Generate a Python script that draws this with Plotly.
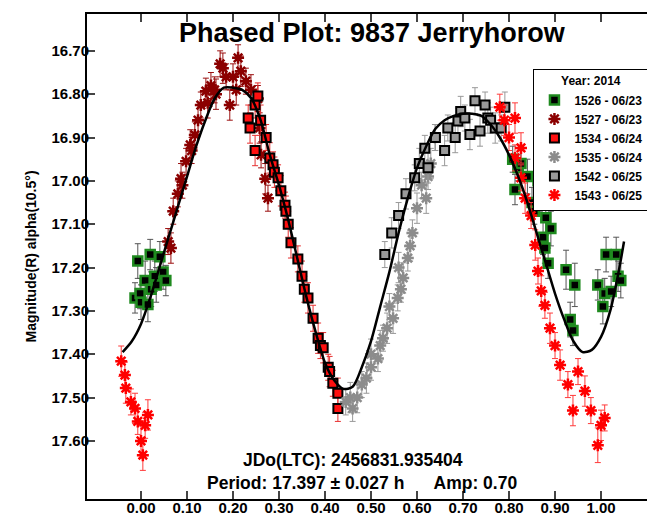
import plotly.graph_objects as go

# ---------------- data ----------------
p1526 = [-0.013, -0.007, -0.002, 0.0, 0.009, 0.015, 0.02, 0.022, 0.03, 0.033, 0.041, 0.048, 0.054,
         0.808, 0.813, 0.82, 0.826, 0.84, 0.85, 0.855, 0.863, 0.867, 0.874, 0.878, 0.88, 0.885, 0.891,
         0.924, 0.933, 0.939, 0.943, 0.993, 1.004, 1.008, 1.011, 1.022, 1.033, 1.037, 1.043]
m1526 = [17.27, 17.185, 17.26, 17.28, 17.23, 17.285, 17.17, 17.25, 17.22, 17.24, 17.175, 17.21, 17.23,
         16.95, 17.02, 16.97, 16.96, 16.99, 17.05, 17.07, 17.00, 17.035, 17.13, 17.155, 17.085, 17.19, 17.11,
         17.205, 17.32, 17.345, 17.24, 17.24, 17.29, 17.26, 17.17, 17.255, 17.17, 17.22, 17.23]
e1526 = [0.035, 0.04, 0.035, 0.04, 0.045, 0.04, 0.035, 0.04, 0.035, 0.04, 0.035, 0.04, 0.035,
         0.03, 0.035, 0.03, 0.035, 0.04, 0.035, 0.03, 0.04, 0.035, 0.04, 0.035, 0.04, 0.035, 0.04,
         0.045, 0.04, 0.035, 0.05, 0.035, 0.04, 0.035, 0.04, 0.035, 0.04, 0.035, 0.04]

p1527 = [0.059, 0.065, 0.07, 0.08, 0.087, 0.09, 0.098, 0.107, 0.11, 0.117, 0.124, 0.13, 0.141, 0.145,
         0.152, 0.16, 0.163, 0.172, 0.178, 0.185, 0.193, 0.2, 0.207, 0.211, 0.217, 0.228, 0.239,
         0.254, 0.258, 0.261, 0.27, 0.276]
m1527 = [17.14, 17.155, 17.07, 17.03, 16.995, 17.01, 16.955, 16.917, 16.93, 16.894, 16.86, 16.825, 16.793, 16.82,
         16.78, 16.79, 16.80, 16.73, 16.74, 16.76, 16.825, 16.76, 16.79, 16.716, 16.747, 16.77, 16.79,
         16.81, 16.878, 16.94, 16.995, 17.04]
e1527 = [0.03, 0.035, 0.03, 0.03, 0.035, 0.03, 0.03, 0.035, 0.03, 0.03, 0.035, 0.03, 0.03, 0.035,
         0.03, 0.03, 0.035, 0.03, 0.035, 0.03, 0.035, 0.03, 0.035, 0.03, 0.035, 0.03, 0.035,
         0.03, 0.035, 0.03, 0.035, 0.03]

p1534 = [0.233, 0.237, 0.248, 0.248, 0.254, 0.26, 0.272, 0.28, 0.287, 0.29, 0.298, 0.304, 0.313, 0.315,
         0.32, 0.326, 0.341, 0.35, 0.355, 0.363, 0.374, 0.385, 0.39, 0.396, 0.407, 0.41, 0.417, 0.428, 0.428]
m1534 = [16.855, 16.878, 16.825, 16.93, 16.804, 16.86, 16.90, 16.947, 16.963, 16.98, 16.993, 17.023, 17.056, 17.07,
         17.10, 17.143, 17.18, 17.22, 17.25, 17.27, 17.317, 17.363, 17.38, 17.385, 17.43, 17.44, 17.467, 17.49, 17.525]
e1534 = [0.03, 0.035, 0.03, 0.035, 0.03, 0.035, 0.03, 0.035, 0.03, 0.035, 0.03, 0.035, 0.03, 0.035,
         0.03, 0.035, 0.03, 0.035, 0.03, 0.035, 0.03, 0.035, 0.03, 0.035, 0.03, 0.035, 0.03, 0.035, 0.03]

p1535 = [0.445, 0.455, 0.46, 0.47, 0.48, 0.49, 0.50, 0.50, 0.515, 0.52, 0.526, 0.535, 0.54, 0.548,
         0.558, 0.56, 0.565, 0.57, 0.58, 0.585, 0.59, 0.60, 0.61, 0.62, 0.624, 0.63, 0.639]
m1535 = [17.51, 17.50, 17.525, 17.50, 17.47, 17.455, 17.43, 17.40, 17.41, 17.38, 17.363, 17.34, 17.29, 17.317,
         17.27, 17.20, 17.25, 17.224, 17.178, 17.15, 17.12, 17.063, 17.01, 17.04, 16.99, 16.96, 16.90]
e1535 = [0.03, 0.035, 0.03, 0.035, 0.03, 0.035, 0.03, 0.035, 0.03, 0.035, 0.03, 0.035, 0.03, 0.035,
         0.03, 0.035, 0.03, 0.035, 0.03, 0.035, 0.03, 0.035, 0.03, 0.035, 0.03, 0.035, 0.03]

p1542 = [0.53, 0.545, 0.56, 0.576, 0.595, 0.605, 0.617, 0.624, 0.64, 0.66, 0.667, 0.683, 0.689, 0.695,
         0.704, 0.715, 0.726, 0.737, 0.748, 0.754, 0.76, 0.77, 0.783, 0.791]
m1542 = [17.17, 17.12, 17.08, 17.03, 16.993, 16.96, 16.925, 16.97, 16.90, 16.93, 16.878, 16.90, 16.862, 16.84,
         16.855, 16.893, 16.815, 16.885, 16.825, 16.855, 16.86, 16.878, 16.878, 16.83]
e1542 = [0.03, 0.035, 0.03, 0.035, 0.03, 0.035, 0.03, 0.035, 0.03, 0.035, 0.03, 0.035, 0.03, 0.035,
         0.03, 0.035, 0.03, 0.035, 0.03, 0.035, 0.03, 0.035, 0.03, 0.035]

p1543 = [-0.043, -0.035, -0.033, -0.022, -0.013, -0.007, 0.0, 0.004, 0.009, 0.015,
         0.78, 0.79, 0.80, 0.813, 0.813, 0.826, 0.826, 0.835, 0.848, 0.857, 0.863, 0.87, 0.878,
         0.889, 0.90, 0.911, 0.928, 0.939, 0.95, 0.965, 0.978, 0.993, 1.0, 1.008]
m1543 = [17.416, 17.448, 17.478, 17.51, 17.525, 17.555, 17.60, 17.633, 17.564, 17.54,
         16.83, 16.86, 16.90, 16.855, 16.947, 16.924, 16.993, 17.04, 17.08, 17.148, 17.208, 17.254, 17.287,
         17.34, 17.38, 17.425, 17.47, 17.53, 17.44, 17.485, 17.53, 17.61, 17.564, 17.547]
e1543 = [0.035, 0.03, 0.035, 0.03, 0.035, 0.03, 0.04, 0.035, 0.03, 0.035,
         0.03, 0.035, 0.03, 0.035, 0.03, 0.035, 0.03, 0.035, 0.03, 0.035, 0.03, 0.035, 0.03,
         0.035, 0.03, 0.035, 0.03, 0.035, 0.03, 0.035, 0.03, 0.04, 0.035, 0.03]

fit_phase = [-0.04, -0.02, 0.00, 0.02, 0.04, 0.06, 0.08, 0.10, 0.12, 0.14, 0.16, 0.18, 0.20, 0.22,
             0.24, 0.26, 0.28, 0.30, 0.32, 0.34, 0.36, 0.38, 0.40, 0.42, 0.44, 0.46, 0.48, 0.50,
             0.52, 0.54, 0.56, 0.58, 0.60, 0.62, 0.64, 0.66, 0.68, 0.70, 0.72, 0.74, 0.76, 0.78,
             0.80, 0.82, 0.84, 0.86, 0.88, 0.90, 0.92, 0.94, 0.96, 0.98, 1.00, 1.02, 1.04, 1.05]
fit_mag = [17.395, 17.37, 17.33, 17.27, 17.20, 17.13, 17.06, 16.99, 16.92, 16.86, 16.81, 16.785, 16.785, 16.79,
           16.81, 16.86, 16.94, 17.01, 17.09, 17.18, 17.27, 17.35, 17.42, 17.46, 17.48, 17.475, 17.43, 17.37,
           17.29, 17.21, 17.12, 17.04, 16.97, 16.92, 16.88, 16.86, 16.85, 16.845, 16.845, 16.85, 16.87, 16.90,
           16.94, 16.99, 17.05, 17.12, 17.19, 17.26, 17.32, 17.37, 17.395, 17.39, 17.36, 17.30, 17.20, 17.14]

x_ticks = [0.0, 0.1, 0.2, 0.3, 0.4, 0.5, 0.6, 0.7, 0.8, 0.9, 1.0]
y_ticks = [16.7, 16.8, 16.9, 17.0, 17.1, 17.2, 17.3, 17.4, 17.5, 17.6]

# ---------------- figure ----------------
FONT = "Liberation Sans, Arial, sans-serif"
fig = go.Figure()

def add_series(name, px, py, pe, symbol, fill, line_col, line_w, size, err_col):
    fig.add_trace(go.Scatter(
        x=px, y=py, mode="markers", name=name,
        marker=dict(symbol=symbol, size=size, color=fill,
                    line=dict(color=line_col, width=line_w)),
        error_y=dict(type="data", array=pe, visible=True, color=err_col,
                     thickness=1, width=3),
    ))

add_series("1526 - 06/23", p1526, m1526, e1526, "square", "#000000", "#1f8a1f", 2.5, 9, "#555555")
add_series("1527 - 06/23", p1527, m1527, e1527, "asterisk-open", "#8b0000", "#8b0000", 2.5, 10, "#9b1010")
add_series("1534 - 06/24", p1534, m1534, e1534, "square", "#ff1010", "#000000", 2, 9, "#e83030")
add_series("1535 - 06/24", p1535, m1535, e1535, "asterisk-open", "#8c8c8c", "#8c8c8c", 2.5, 10, "#999999")
add_series("1542 - 06/25", p1542, m1542, e1542, "square", "#9a9a9a", "#000000", 2, 9, "#999999")
add_series("1543 - 06/25", p1543, m1543, e1543, "asterisk-open", "#ff0000", "#ff0000", 2.5, 10, "#ff3a3a")

fig.add_trace(go.Scatter(x=fit_phase, y=fit_mag, mode="lines", showlegend=False,
                         line=dict(color="black", width=2.5, shape="spline", smoothing=0.8)))

axis_common = dict(showline=True, linecolor="black", linewidth=2, mirror="ticks",
                   ticks="inside", ticklen=8, tickwidth=1.5, tickcolor="#444444",
                   showgrid=False, zeroline=False, automargin=False,
                   tickfont=dict(family=FONT, size=15, color="black", weight="bold"))

fig.update_layout(
    width=655, height=517,
    margin=dict(l=79, r=6, t=6, b=26, autoexpand=False),
    paper_bgcolor="white", plot_bgcolor="white",
    xaxis=dict(range=[-0.1174, 1.1217], tickvals=x_ticks, tickformat=".2f",
               ticklabelstandoff=-6, **axis_common),
    yaxis=dict(range=[17.734, 16.615], tickvals=y_ticks, tickformat=".2f",
               ticklabelstandoff=-7, **axis_common),
    legend=dict(x=0.985, y=0.887, xanchor="right", yanchor="top",
                bgcolor="white", bordercolor="black", borderwidth=1,
                font=dict(family=FONT, size=12, color="black", weight="bold"),
                title=dict(text="Year: 2014", side="top center",
                           font=dict(family=FONT, size=12, color="black", weight="bold")),
                itemwidth=30, tracegroupgap=0),
    showlegend=True,
    annotations=[
        dict(text="Phased Plot: 9837 Jerryhorow", xref="paper", yref="paper", x=0.5, y=0.961,
             xanchor="center", yanchor="middle", showarrow=False,
             font=dict(family=FONT, size=27, color="black", weight="bold")),
        dict(text="JDo(LTC): 2456831.935404", xref="paper", yref="paper", x=0.4665, y=0.0804,
             xanchor="center", yanchor="middle", showarrow=False,
             font=dict(family=FONT, size=17.5, color="black", weight="bold")),
        dict(text="Period: 17.397 ± 0.027 h&nbsp;&nbsp;&nbsp;&nbsp;&nbsp;&nbsp;Amp: 0.70", xref="paper", yref="paper",
             x=0.482, y=0.033, xanchor="center", yanchor="middle", showarrow=False,
             font=dict(family=FONT, size=17.5, color="black", weight="bold")),
        dict(text="Magnitude(R) alpha(10.5°)", xref="paper", yref="paper", x=-0.1, y=0.5,
             xanchor="center", yanchor="middle", textangle=-90, showarrow=False,
             font=dict(family=FONT, size=14, color="black", weight="bold")),
    ],
)

fig.write_html("out.html")
